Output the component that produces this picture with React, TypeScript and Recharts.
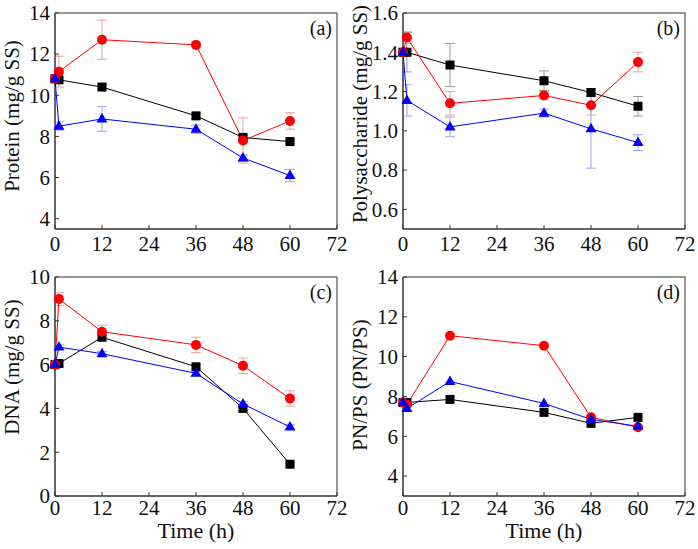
import { ComposedChart, Line, XAxis, YAxis, ErrorBar, ReferenceArea } from 'recharts';

const times = [0, 1, 12, 36, 48, 60];
const xTicks = [0, 12, 24, 36, 48, 60, 72];

// (a) protein, mg/g SS
const proteinBlack = [10.8, 10.75, 10.4, 9.0, 7.95, 7.75];
const proteinRed = [10.8, 11.15, 12.7, 12.45, 7.8, 8.75];
const proteinBlue = [10.8, 8.5, 8.85, 8.35, 6.95, 6.1];
const proteinBlackErr = [0, 0.1, 0.1, 0.15, 0.1, 0.1];
const proteinRedErr = [0, 0.75, 0.95, 0.1, 1.1, 0.4];
const proteinBlueErr = [0, 0.2, 0.6, 0.2, 0.15, 0.3];

// (b) polysaccharide, mg/g SS
const psBlack = [1.4, 1.4, 1.335, 1.255, 1.195, 1.125];
const psRed = [1.4, 1.475, 1.14, 1.18, 1.13, 1.35];
const psBlue = [1.4, 1.155, 1.02, 1.09, 1.01, 0.94];
const psBlackErr = [0, 0.1, 0.11, 0.05, 0.02, 0.05];
const psRedErr = [0, 0.03, 0.06, 0.02, 0.05, 0.05];
const psBlueErr = [0, 0.08, 0.05, 0.02, 0.2, 0.04];

// (c) DNA, mg/g SS
const dnaBlack = [6.0, 6.05, 7.25, 5.9, 4.0, 1.45];
const dnaRed = [6.0, 9.0, 7.5, 6.9, 5.95, 4.45];
const dnaBlue = [6.0, 6.8, 6.5, 5.6, 4.2, 3.15];
const dnaBlackErr = [0, 0.1, 0.1, 0.1, 0.1, 0.05];
const dnaRedErr = [0, 0.3, 0.3, 0.35, 0.35, 0.35];
const dnaBlueErr = [0, 0.1, 0.1, 0.1, 0.1, 0.1];

// (d) PN/PS ratio
const ratioBlack = [7.7, 7.7, 7.85, 7.2, 6.65, 6.95];
const ratioRed = [7.7, 7.6, 11.05, 10.55, 6.95, 6.45];
const ratioBlue = [7.7, 7.4, 8.75, 7.65, 6.85, 6.5];

const FONT = 'Liberation Serif, serif';
const AXIS = '#333';
const txt = (size: number) => ({ fontFamily: FONT, fontSize: size, fill: '#111' });

function buildRows(b: number[], r: number[], u: number[], be?: number[], re?: number[], ue?: number[]) {
  return times.map((t, i) => ({
    t,
    black: b[i],
    red: r[i],
    blue: u[i],
    blackErr: be ? be[i] : undefined,
    redErr: re ? re[i] : undefined,
    blueErr: ue ? ue[i] : undefined,
  }));
}

const squareDot = (p: any) => (
  <rect key={`sq-${p.index}`} x={p.cx - 4.5} y={p.cy - 4.5} width={9} height={9} fill="#000" />
);
const circleDot = (p: any) => <circle key={`ci-${p.index}`} cx={p.cx} cy={p.cy} r={5} fill="#ff0000" />;
const triDot = (p: any) => (
  <polygon
    key={`tr-${p.index}`}
    points={`${p.cx},${p.cy - 6} ${p.cx - 5.5},${p.cy + 3.5} ${p.cx + 5.5},${p.cy + 3.5}`}
    fill="#0000ff"
  />
);

interface PanelProps {
  left: number;
  top: number;
  height: number;
  xAxisHeight: number;
  rows: ReturnType<typeof buildRows>;
  yDomain: [number, number];
  yTicks: number[];
  decimals: number;
  yTitle: string;
  titleY: number;
  tag: string;
  xMargin: number;
  yMargin: number;
  showTime: boolean;
  errors: boolean;
}

function Panel(props: PanelProps) {
  const { rows, yDomain, yTicks, decimals, xMargin, yMargin } = props;
  const yTick = (p: any) => (
    <g key={`yt-${p.index}`}>
      <line x1={p.x + yMargin} x2={p.x + yMargin + 4} y1={p.y} y2={p.y} stroke={AXIS} />
      <text x={p.x} y={p.y} dy="0.35em" textAnchor="end" style={txt(21)}>
        {Number(p.payload.value).toFixed(decimals)}
      </text>
    </g>
  );
  const xTick = (p: any) => (
    <g key={`xt-${p.index}`}>
      <line x1={p.x} x2={p.x} y1={p.y - xMargin} y2={p.y - xMargin - 4} stroke={AXIS} />
      <text x={p.x} y={p.y} dy="0.71em" textAnchor="middle" style={txt(21)}>
        {p.payload.value}
      </text>
    </g>
  );
  return (
    <div style={{ position: 'absolute', left: props.left, top: props.top }}>
      <ComposedChart width={349} height={props.height} data={rows} margin={{ top: 13, right: 12, bottom: 0, left: 0 }}>
        <XAxis
          dataKey="t"
          type="number"
          domain={[0, 72]}
          ticks={xTicks}
          interval={0}
          height={props.xAxisHeight}
          tickSize={0}
          tickMargin={xMargin}
          tick={xTick}
          stroke={AXIS}
          label={
            props.showTime
              ? () => (
                  <text x={196} y={274} textAnchor="middle" style={txt(22)}>
                    Time (h)
                  </text>
                )
              : undefined
          }
        />
        <YAxis
          type="number"
          domain={yDomain}
          ticks={yTicks}
          interval={0}
          width={55}
          tickSize={0}
          tickMargin={yMargin}
          tick={yTick}
          stroke={AXIS}
          label={() => (
            <text
              x={12}
              y={props.titleY}
              transform={`rotate(-90, 12, ${props.titleY})`}
              dy="0.35em"
              textAnchor="middle"
              style={txt(21)}
            >
              {props.yTitle}
            </text>
          )}
        />
        <ReferenceArea
          x1={0}
          x2={72}
          y1={yDomain[0]}
          y2={yDomain[1]}
          fill="none"
          stroke={AXIS}
          strokeWidth={1}
          label={(p: any) => (
            <text x={p.viewBox.x + p.viewBox.width - 5} y={p.viewBox.y + 21.5} textAnchor="end" style={txt(20)}>
              {props.tag}
            </text>
          )}
        />
        <Line dataKey="black" stroke="#000" strokeWidth={1} dot={squareDot} activeDot={false} isAnimationActive={false}>
          {props.errors && <ErrorBar dataKey="blackErr" direction="y" width={5} stroke="#9a9a9a" strokeWidth={1} />}
        </Line>
        <Line dataKey="red" stroke="#ff0000" strokeWidth={1} dot={circleDot} activeDot={false} isAnimationActive={false}>
          {props.errors && <ErrorBar dataKey="redErr" direction="y" width={5} stroke="#f2a0a0" strokeWidth={1} />}
        </Line>
        <Line dataKey="blue" stroke="#0000ff" strokeWidth={1} dot={triDot} activeDot={false} isAnimationActive={false}>
          {props.errors && <ErrorBar dataKey="blueErr" direction="y" width={5} stroke="#a0a0f0" strokeWidth={1} />}
        </Line>
      </ComposedChart>
    </div>
  );
}

export default function App() {
  return (
    <div style={{ position: 'absolute', left: 0, top: 0, width: 698, height: 549, background: '#fff' }}>
      <Panel
        left={0}
        top={0}
        height={272}
        xAxisHeight={43}
        rows={buildRows(proteinBlack, proteinRed, proteinBlue, proteinBlackErr, proteinRedErr, proteinBlueErr)}
        yDomain={[3.5, 14]}
        yTicks={[4, 6, 8, 10, 12, 14]}
        decimals={0}
        yTitle="Protein (mg/g SS)"
        titleY={116}
        tag="(a)"
        xMargin={7}
        yMargin={5}
        showTime={false}
        errors
      />
      <Panel
        left={348}
        top={0}
        height={272}
        xAxisHeight={43}
        rows={buildRows(psBlack, psRed, psBlue, psBlackErr, psRedErr, psBlueErr)}
        yDomain={[0.5, 1.6]}
        yTicks={[0.6, 0.8, 1.0, 1.2, 1.4, 1.6]}
        decimals={1}
        yTitle="Polysaccharide (mg/g SS)"
        titleY={114}
        tag="(b)"
        xMargin={7}
        yMargin={5}
        showTime={false}
        errors
      />
      <Panel
        left={0}
        top={264}
        height={284}
        xAxisHeight={52}
        rows={buildRows(dnaBlack, dnaRed, dnaBlue, dnaBlackErr, dnaRedErr, dnaBlueErr)}
        yDomain={[0, 10]}
        yTicks={[0, 2, 4, 6, 8, 10]}
        decimals={0}
        yTitle="DNA (mg/g SS)"
        titleY={103}
        tag="(c)"
        xMargin={4}
        yMargin={5}
        showTime
        errors
      />
      <Panel
        left={348}
        top={264}
        height={284}
        xAxisHeight={52}
        rows={buildRows(ratioBlack, ratioRed, ratioBlue)}
        yDomain={[3, 14]}
        yTicks={[4, 6, 8, 10, 12, 14]}
        decimals={0}
        yTitle="PN/PS (PN/PS)"
        titleY={121}
        tag="(d)"
        xMargin={4}
        yMargin={5}
        showTime
        errors={false}
      />
    </div>
  );
}
